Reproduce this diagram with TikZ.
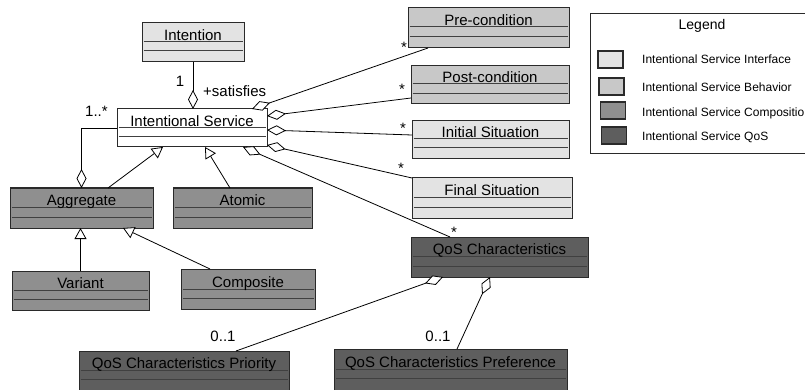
\documentclass[tikz,border=0pt]{standalone}
\usepackage{fontspec}
\setmainfont{Liberation Sans}
\usetikzlibrary{arrows.meta}
\definecolor{cIface}{HTML}{E3E3E3}
\definecolor{cBehav}{HTML}{C8C8C8}
\definecolor{cComp}{HTML}{8F8F8F}
\definecolor{cQos}{HTML}{5E5E5E}
\definecolor{cBorder}{HTML}{2A2A2A}
\definecolor{cDiv}{HTML}{404040}
\tikzset{
  classbox/.style={draw=cBorder, line width=1pt, inner sep=0pt, outer sep=0pt},
  divider/.style={draw=cDiv, line width=1pt},
  classname/.style={inner sep=0pt, font=\fontsize{15}{18}\selectfont},
  lbl/.style={inner sep=0pt, font=\fontsize{15}{18}\selectfont},
  conn/.style={draw=black, line width=0.8pt},
  aggr/.style={conn, -{Diamond[fill=white, length=19pt, width=10pt]}},
  genl/.style={conn, -{Triangle[fill=white, length=11pt, width=12pt]}},
  swatch/.style={draw=cBorder, line width=1.2pt, inner sep=0pt, outer sep=0pt, minimum width=25pt, minimum height=17pt},
  legtext/.style={inner sep=0pt, anchor=base west, font=\fontsize{12}{14}\selectfont},
}
% name, fill, left, top, right, bottom, line1, line2, text
\newcommand{\umlbox}[9]{%
  \node[classbox, fill=#2, minimum width={(#5-#3)*1pt}, minimum height={(#6-#4)*1pt}, anchor=north west] (#1) at (#3,#4) {};
  \draw[divider] ({#3+1.5},#7) -- ({#5-1.5},#7) ({#3+1.5},#8) -- ({#5-1.5},#8);
  \node[classname, anchor=base] (#1-name) at ({(#3+#5)/2},{#7-1.5}) {#9};
}
\begin{document}
\begin{tikzpicture}[x=1pt,y=-1pt]
\useasboundingbox (0,0) rectangle (805,390);
\clip (0,0) rectangle (805,390);
\fill[white] (0,0) rectangle (805,390);

% classes
\umlbox{intention}{cIface}{142}{23}{244}{62}{42}{51}{Intention}
\umlbox{is}{white}{117}{109}{267}{147}{128}{137}{Intentional Service}
\umlbox{pre}{cBehav}{408}{8}{569}{48}{27}{37}{Pre-condition}
\umlbox{post}{cBehav}{411}{66}{569}{104}{84}{94}{Post-condition}
\umlbox{initial}{cIface}{412}{121}{569}{159}{139}{148}{Initial Situation}
\umlbox{final}{cIface}{412}{178}{572}{218}{197}{207}{Final Situation}
\umlbox{qos}{cQos}{411}{237}{588}{277}{256}{266}{QoS Characteristics}
\umlbox{agg}{cComp}{10}{188}{153}{228}{207}{217}{Aggregate}
\umlbox{atomic}{cComp}{173}{188}{312}{228}{207}{217}{Atomic}
\umlbox{variant}{cComp}{12}{271}{149}{310}{290}{299}{Variant}
\umlbox{comp}{cComp}{181}{269}{315}{309}{289}{298}{Composite}
\umlbox{prio}{cQos}{79}{351}{289}{393}{370}{379}{QoS Characteristics Priority}
\umlbox{pref}{cQos}{334}{349}{567}{393}{369}{378}{QoS Characteristics Preference}

% associations / aggregations
\draw[aggr] (intention.south) -- (intention.south |- is.north);
\draw[aggr] ([xshift=-60.5pt]pre.south) -- ([xshift=60pt]is.north);
\draw[aggr] ([yshift=-13pt]post.west) -- ([yshift=12pt]is.east);
\draw[aggr] ([yshift=5pt]initial.west) -- ([yshift=-2pt]is.east);
\draw[aggr] (final.north west) -- ([yshift=-17pt]is.east);
\draw[aggr] ([xshift=-49.5pt]qos.north) -- ([xshift=51pt]is.south);
\draw[aggr] (is.west) -| (agg.north);
\draw[aggr] ([xshift=52pt]prio.north) -- ([xshift=-56.5pt]qos.south);
\draw[aggr] ([xshift=6.5pt]pref.north) -- ([xshift=-9.5pt]qos.south);

% generalizations
\draw[genl] ([xshift=26.5pt]agg.north) -- ([xshift=-29pt]is.south);
\draw[genl] ([xshift=-12.5pt]atomic.north) -- ([xshift=13pt]is.south);
\draw[genl] (variant.north) -- (variant.north |- agg.south);
\draw[genl] ([xshift=-38pt]comp.north) -- ([xshift=41.5pt]agg.south);

% labels
\node[lbl, anchor=base] (l-one) at (180,87) {1};
\node[lbl, anchor=base west] (l-sat) at (203,97) {+satisfies};
\node[lbl, anchor=base west] (l-many) at (85,117) {1..*};
\node[lbl, anchor=base] (l-pre) at (404,52.5) {*};
\node[lbl, anchor=base] (l-post) at (402,94.5) {*};
\node[lbl, anchor=base] (l-init) at (403,133.5) {*};
\node[lbl, anchor=base] (l-final) at (401,173.5) {*};
\node[lbl, anchor=base] (l-qos) at (454,237.5) {*};
\node[lbl, anchor=base] (l-prio) at (223,341) {0..1};
\node[lbl, anchor=base] (l-pref) at (438,341) {0..1};

% legend
\node[draw=cBorder, line width=1pt, inner sep=0pt, minimum width=222pt, minimum height=140pt, anchor=north west] (legend) at (590,13) {};
\node[inner sep=0pt, anchor=base, font=\fontsize{14}{16}\selectfont] (legend-title) at (702,30) {Legend};
\node[swatch, fill=cIface, anchor=north west] (sw1) at (598,51) {};
\node[swatch, fill=cBehav, anchor=north west] (sw2) at (599,78) {};
\node[swatch, fill=cComp, anchor=north west] (sw3) at (600.5,102) {};
\node[swatch, fill=cQos, anchor=north west] (sw4) at (601.5,127) {};
\node[legtext] (lt1) at (642,63.5) {Intentional Service Interface};
\node[legtext] (lt2) at (642,92) {Intentional Service Behavior};
\node[legtext] (lt3) at (642,116.5) {Intentional Service Composition};
\node[legtext] (lt4) at (642,141) {Intentional Service QoS};
\end{tikzpicture}
\end{document}
